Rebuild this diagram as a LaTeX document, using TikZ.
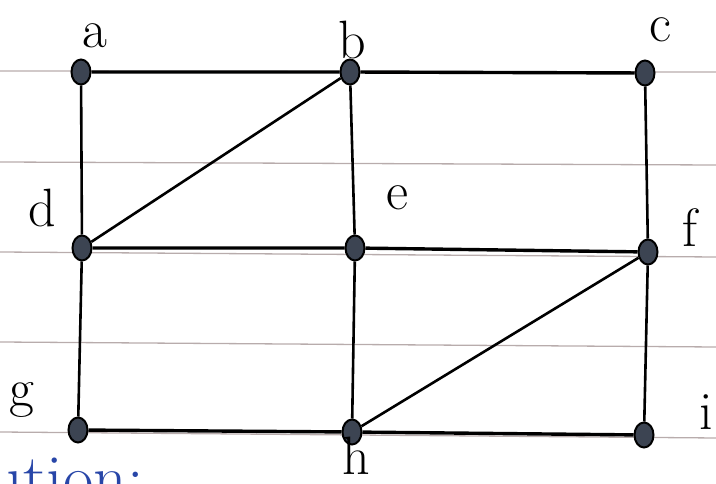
\documentclass[tikz,border=0pt]{standalone}
\usepackage{fontspec}
\usetikzlibrary{shapes.geometric}
\definecolor{vtxgray}{HTML}{3C4452}
\definecolor{rulegray}{HTML}{B8ACAC}
\definecolor{inkblue}{HTML}{2846A8}
\begin{document}
\begin{tikzpicture}[x=1pt,y=-1pt,
  vtx/.style={ellipse,draw=black,line width=2pt,fill=vtxgray,
    minimum width=19pt,minimum height=25pt,inner sep=0pt},
  lbl/.style={font=\fontsize{54}{54}\selectfont,inner sep=0pt},
  edge/.style={line width=2.6pt,black}]
  \useasboundingbox (0,0) rectangle (716,484);
  % ruled paper
  \draw[rulegray,line width=1.3pt] (0,71) -- (716,72);
  \draw[rulegray,line width=1.3pt] (0,162) -- (716,165);
  \draw[rulegray,line width=1.3pt] (0,252) -- (716,257);
  \draw[rulegray,line width=1.3pt] (0,342) -- (716,347);
  \draw[rulegray,line width=1.3pt] (0,432) -- (716,438);
  % vertices
  \node[vtx] (a) at (81,72) {};
  \node[vtx] (b) at (350,72) {};
  \node[vtx] (c) at (645,73) {};
  \node[vtx] (d) at (82,248) {};
  \node[vtx] (e) at (355,248) {};
  \node[vtx] (f) at (648,252) {};
  \node[vtx] (g) at (78,430) {};
  \node[vtx] (h) at (352,432) {};
  \node[vtx] (i) at (644,435) {};
  % labels
  \node[lbl] (la) at (95,36) {a};
  \node[lbl] (lb) at (352,40) {b};
  \node[lbl] (lc) at (660,30) {c};
  \node[lbl] (ld) at (42,208) {d};
  \node[lbl] (le) at (397,198) {e};
  \node[lbl] (lf) at (690,228) {f};
  \node[lbl] (lg) at (22,400) {g};
  \node[lbl] (lh) at (356,456) {h};
  \node[lbl] (li) at (706,412) {i};
  % edges
  \draw[edge,line width=3.4pt] (a) -- (b) -- (c);
  \draw[edge,line width=3.4pt] (d) -- (e) -- (f);
  \draw[edge,line width=3.4pt] (g) -- (h) -- (i);
  \draw[edge] (a) -- (d) -- (g);
  \draw[edge] (b) -- (e) -- (h);
  \draw[edge] (c) -- (f) -- (i);
  \draw[edge] (d) -- (b);
  \draw[edge] (h) -- (f);
  % heading below
  \node[inkblue,anchor=base west,font=\fontsize{66}{66}\selectfont] (sol) at (-14,500) {ution:};
\end{tikzpicture}
\end{document}
